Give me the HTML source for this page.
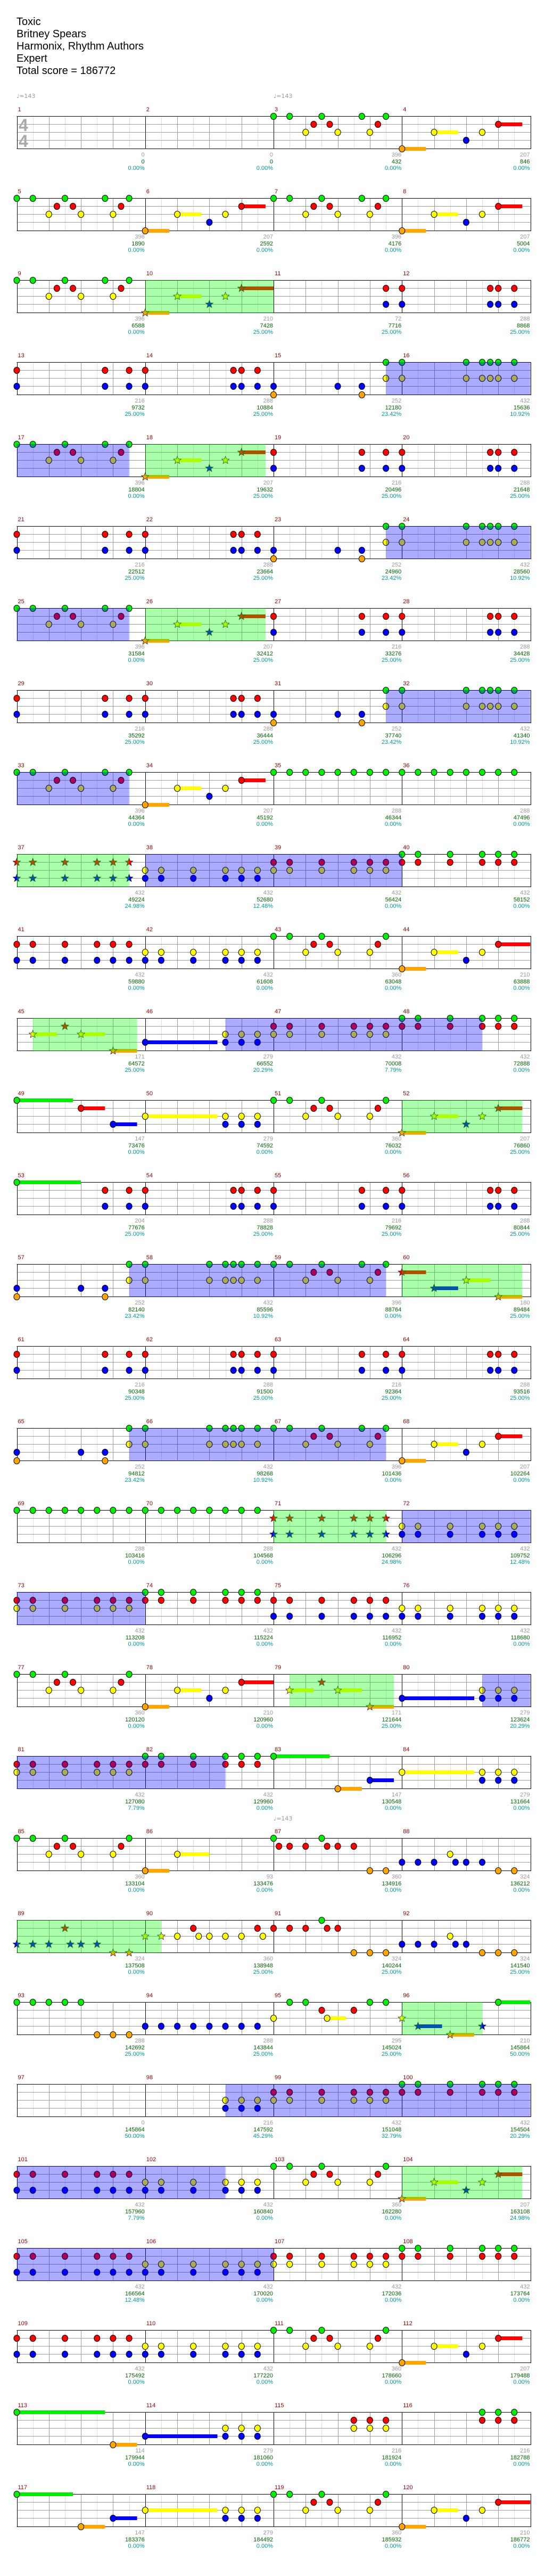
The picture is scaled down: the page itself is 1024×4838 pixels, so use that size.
<!DOCTYPE html>
<html><head><meta charset="utf-8">
<style>
html,body{margin:0;padding:0;background:#fff;}
body{width:1024px;height:4838px;position:relative;overflow:hidden;font-family:"Liberation Sans",sans-serif;}
#s{position:absolute;left:0;top:0;}
.title{position:absolute;left:31px;top:30px;font-size:20px;line-height:23px;color:#000;}
.ts{position:absolute;left:35px;font:bold 32px/32px "Liberation Sans",sans-serif;color:#aaa;}
.tempo{position:absolute;font-size:11px;line-height:12px;color:#999;font-family:"DejaVu Sans","Liberation Sans",sans-serif;}
.row{position:absolute;left:0;width:1024px;height:0;}
.m{position:absolute;top:0;width:241.25px;height:0;}
.m:nth-child(1){left:31.5px}.m:nth-child(2){left:272.75px}.m:nth-child(3){left:514px}.m:nth-child(4){left:755.25px}
.m b{position:absolute;left:2px;top:-18px;font-weight:normal;font-size:11px;line-height:13px;color:#8b0000;}
.m i{position:absolute;right:1px;top:67px;font-style:normal;text-align:right;font-size:11px;line-height:12.7px;white-space:nowrap;}
.m i a,.m i u,.m i s{display:block;text-decoration:none;}
.m i a{color:#999}.m i u{color:#006400}.m i s{color:#009999}
</style></head><body>
<svg id="s" width="1024" height="4838" xmlns="http://www.w3.org/2000/svg"></svg>
<div class="title">Toxic<br>Britney Spears<br>Harmonix, Rhythm Authors<br>Expert<br>Total score = 186772</div>
<div class="tempo" style="left:31px;top:175px">♩=143</div>
<div class="tempo" style="left:514px;top:175px">♩=143</div>
<div class="tempo" style="left:514px;top:3410px">♩=143</div>
<div class="ts" style="top:219px">4</div>
<div class="ts" style="top:249px">4</div>

<div class="row" style="top:218px"><div class="m"><b>1</b><i><a>0</a><u>0</u><s>0.00%</s></i></div><div class="m"><b>2</b><i><a>0</a><u>0</u><s>0.00%</s></i></div><div class="m"><b>3</b><i><a>396</a><u>432</u><s>0.00%</s></i></div><div class="m"><b>4</b><i><a>207</a><u>846</u><s>0.00%</s></i></div></div>
<div class="row" style="top:372px"><div class="m"><b>5</b><i><a>396</a><u>1890</u><s>0.00%</s></i></div><div class="m"><b>6</b><i><a>207</a><u>2592</u><s>0.00%</s></i></div><div class="m"><b>7</b><i><a>396</a><u>4176</u><s>0.00%</s></i></div><div class="m"><b>8</b><i><a>207</a><u>5004</u><s>0.00%</s></i></div></div>
<div class="row" style="top:526px"><div class="m"><b>9</b><i><a>396</a><u>6588</u><s>0.00%</s></i></div><div class="m"><b>10</b><i><a>210</a><u>7428</u><s>25.00%</s></i></div><div class="m"><b>11</b><i><a>72</a><u>7716</u><s>25.00%</s></i></div><div class="m"><b>12</b><i><a>288</a><u>8868</u><s>25.00%</s></i></div></div>
<div class="row" style="top:680px"><div class="m"><b>13</b><i><a>216</a><u>9732</u><s>25.00%</s></i></div><div class="m"><b>14</b><i><a>288</a><u>10884</u><s>25.00%</s></i></div><div class="m"><b>15</b><i><a>252</a><u>12180</u><s>23.42%</s></i></div><div class="m"><b>16</b><i><a>432</a><u>15636</u><s>10.92%</s></i></div></div>
<div class="row" style="top:834px"><div class="m"><b>17</b><i><a>396</a><u>18804</u><s>0.00%</s></i></div><div class="m"><b>18</b><i><a>207</a><u>19632</u><s>25.00%</s></i></div><div class="m"><b>19</b><i><a>216</a><u>20496</u><s>25.00%</s></i></div><div class="m"><b>20</b><i><a>288</a><u>21648</u><s>25.00%</s></i></div></div>
<div class="row" style="top:988px"><div class="m"><b>21</b><i><a>216</a><u>22512</u><s>25.00%</s></i></div><div class="m"><b>22</b><i><a>288</a><u>23664</u><s>25.00%</s></i></div><div class="m"><b>23</b><i><a>252</a><u>24960</u><s>23.42%</s></i></div><div class="m"><b>24</b><i><a>432</a><u>28560</u><s>10.92%</s></i></div></div>
<div class="row" style="top:1142px"><div class="m"><b>25</b><i><a>396</a><u>31584</u><s>0.00%</s></i></div><div class="m"><b>26</b><i><a>207</a><u>32412</u><s>25.00%</s></i></div><div class="m"><b>27</b><i><a>216</a><u>33276</u><s>25.00%</s></i></div><div class="m"><b>28</b><i><a>288</a><u>34428</u><s>25.00%</s></i></div></div>
<div class="row" style="top:1296px"><div class="m"><b>29</b><i><a>216</a><u>35292</u><s>25.00%</s></i></div><div class="m"><b>30</b><i><a>288</a><u>36444</u><s>25.00%</s></i></div><div class="m"><b>31</b><i><a>252</a><u>37740</u><s>23.42%</s></i></div><div class="m"><b>32</b><i><a>432</a><u>41340</u><s>10.92%</s></i></div></div>
<div class="row" style="top:1450px"><div class="m"><b>33</b><i><a>396</a><u>44364</u><s>0.00%</s></i></div><div class="m"><b>34</b><i><a>207</a><u>45192</u><s>0.00%</s></i></div><div class="m"><b>35</b><i><a>288</a><u>46344</u><s>0.00%</s></i></div><div class="m"><b>36</b><i><a>288</a><u>47496</u><s>0.00%</s></i></div></div>
<div class="row" style="top:1604px"><div class="m"><b>37</b><i><a>432</a><u>49224</u><s>24.98%</s></i></div><div class="m"><b>38</b><i><a>432</a><u>52680</u><s>12.48%</s></i></div><div class="m"><b>39</b><i><a>432</a><u>56424</u><s>0.00%</s></i></div><div class="m"><b>40</b><i><a>432</a><u>58152</u><s>0.00%</s></i></div></div>
<div class="row" style="top:1758px"><div class="m"><b>41</b><i><a>432</a><u>59880</u><s>0.00%</s></i></div><div class="m"><b>42</b><i><a>432</a><u>61608</u><s>0.00%</s></i></div><div class="m"><b>43</b><i><a>360</a><u>63048</u><s>0.00%</s></i></div><div class="m"><b>44</b><i><a>210</a><u>63888</u><s>0.00%</s></i></div></div>
<div class="row" style="top:1912px"><div class="m"><b>45</b><i><a>171</a><u>64572</u><s>25.00%</s></i></div><div class="m"><b>46</b><i><a>279</a><u>66552</u><s>20.29%</s></i></div><div class="m"><b>47</b><i><a>432</a><u>70008</u><s>7.79%</s></i></div><div class="m"><b>48</b><i><a>432</a><u>72888</u><s>0.00%</s></i></div></div>
<div class="row" style="top:2066px"><div class="m"><b>49</b><i><a>147</a><u>73476</u><s>0.00%</s></i></div><div class="m"><b>50</b><i><a>279</a><u>74592</u><s>0.00%</s></i></div><div class="m"><b>51</b><i><a>360</a><u>76032</u><s>0.00%</s></i></div><div class="m"><b>52</b><i><a>207</a><u>76860</u><s>25.00%</s></i></div></div>
<div class="row" style="top:2220px"><div class="m"><b>53</b><i><a>204</a><u>77676</u><s>25.00%</s></i></div><div class="m"><b>54</b><i><a>288</a><u>78828</u><s>25.00%</s></i></div><div class="m"><b>55</b><i><a>216</a><u>79692</u><s>25.00%</s></i></div><div class="m"><b>56</b><i><a>288</a><u>80844</u><s>25.00%</s></i></div></div>
<div class="row" style="top:2374px"><div class="m"><b>57</b><i><a>252</a><u>82140</u><s>23.42%</s></i></div><div class="m"><b>58</b><i><a>432</a><u>85596</u><s>10.92%</s></i></div><div class="m"><b>59</b><i><a>396</a><u>88764</u><s>0.00%</s></i></div><div class="m"><b>60</b><i><a>180</a><u>89484</u><s>25.00%</s></i></div></div>
<div class="row" style="top:2528px"><div class="m"><b>61</b><i><a>216</a><u>90348</u><s>25.00%</s></i></div><div class="m"><b>62</b><i><a>288</a><u>91500</u><s>25.00%</s></i></div><div class="m"><b>63</b><i><a>216</a><u>92364</u><s>25.00%</s></i></div><div class="m"><b>64</b><i><a>288</a><u>93516</u><s>25.00%</s></i></div></div>
<div class="row" style="top:2682px"><div class="m"><b>65</b><i><a>252</a><u>94812</u><s>23.42%</s></i></div><div class="m"><b>66</b><i><a>432</a><u>98268</u><s>10.92%</s></i></div><div class="m"><b>67</b><i><a>396</a><u>101436</u><s>0.00%</s></i></div><div class="m"><b>68</b><i><a>207</a><u>102264</u><s>0.00%</s></i></div></div>
<div class="row" style="top:2836px"><div class="m"><b>69</b><i><a>288</a><u>103416</u><s>0.00%</s></i></div><div class="m"><b>70</b><i><a>288</a><u>104568</u><s>0.00%</s></i></div><div class="m"><b>71</b><i><a>432</a><u>106296</u><s>24.98%</s></i></div><div class="m"><b>72</b><i><a>432</a><u>109752</u><s>12.48%</s></i></div></div>
<div class="row" style="top:2990px"><div class="m"><b>73</b><i><a>432</a><u>113208</u><s>0.00%</s></i></div><div class="m"><b>74</b><i><a>432</a><u>115224</u><s>0.00%</s></i></div><div class="m"><b>75</b><i><a>432</a><u>116952</u><s>0.00%</s></i></div><div class="m"><b>76</b><i><a>432</a><u>118680</u><s>0.00%</s></i></div></div>
<div class="row" style="top:3144px"><div class="m"><b>77</b><i><a>360</a><u>120120</u><s>0.00%</s></i></div><div class="m"><b>78</b><i><a>210</a><u>120960</u><s>0.00%</s></i></div><div class="m"><b>79</b><i><a>171</a><u>121644</u><s>25.00%</s></i></div><div class="m"><b>80</b><i><a>279</a><u>123624</u><s>20.29%</s></i></div></div>
<div class="row" style="top:3298px"><div class="m"><b>81</b><i><a>432</a><u>127080</u><s>7.79%</s></i></div><div class="m"><b>82</b><i><a>432</a><u>129960</u><s>0.00%</s></i></div><div class="m"><b>83</b><i><a>147</a><u>130548</u><s>0.00%</s></i></div><div class="m"><b>84</b><i><a>279</a><u>131664</u><s>0.00%</s></i></div></div>
<div class="row" style="top:3452px"><div class="m"><b>85</b><i><a>360</a><u>133104</u><s>0.00%</s></i></div><div class="m"><b>86</b><i><a>93</a><u>133476</u><s>0.00%</s></i></div><div class="m"><b>87</b><i><a>360</a><u>134916</u><s>0.00%</s></i></div><div class="m"><b>88</b><i><a>324</a><u>136212</u><s>0.00%</s></i></div></div>
<div class="row" style="top:3606px"><div class="m"><b>89</b><i><a>324</a><u>137508</u><s>0.00%</s></i></div><div class="m"><b>90</b><i><a>360</a><u>138948</u><s>25.00%</s></i></div><div class="m"><b>91</b><i><a>324</a><u>140244</u><s>25.00%</s></i></div><div class="m"><b>92</b><i><a>324</a><u>141540</u><s>25.00%</s></i></div></div>
<div class="row" style="top:3760px"><div class="m"><b>93</b><i><a>288</a><u>142692</u><s>25.00%</s></i></div><div class="m"><b>94</b><i><a>288</a><u>143844</u><s>25.00%</s></i></div><div class="m"><b>95</b><i><a>295</a><u>145024</u><s>25.00%</s></i></div><div class="m"><b>96</b><i><a>210</a><u>145864</u><s>50.00%</s></i></div></div>
<div class="row" style="top:3914px"><div class="m"><b>97</b><i><a>0</a><u>145864</u><s>50.00%</s></i></div><div class="m"><b>98</b><i><a>216</a><u>147592</u><s>45.29%</s></i></div><div class="m"><b>99</b><i><a>432</a><u>151048</u><s>32.79%</s></i></div><div class="m"><b>100</b><i><a>432</a><u>154504</u><s>20.29%</s></i></div></div>
<div class="row" style="top:4068px"><div class="m"><b>101</b><i><a>432</a><u>157960</u><s>7.79%</s></i></div><div class="m"><b>102</b><i><a>432</a><u>160840</u><s>0.00%</s></i></div><div class="m"><b>103</b><i><a>360</a><u>162280</u><s>0.00%</s></i></div><div class="m"><b>104</b><i><a>207</a><u>163108</u><s>24.98%</s></i></div></div>
<div class="row" style="top:4222px"><div class="m"><b>105</b><i><a>432</a><u>166564</u><s>12.48%</s></i></div><div class="m"><b>106</b><i><a>432</a><u>170020</u><s>0.00%</s></i></div><div class="m"><b>107</b><i><a>432</a><u>172036</u><s>0.00%</s></i></div><div class="m"><b>108</b><i><a>432</a><u>173764</u><s>0.00%</s></i></div></div>
<div class="row" style="top:4376px"><div class="m"><b>109</b><i><a>432</a><u>175492</u><s>0.00%</s></i></div><div class="m"><b>110</b><i><a>432</a><u>177220</u><s>0.00%</s></i></div><div class="m"><b>111</b><i><a>360</a><u>178660</u><s>0.00%</s></i></div><div class="m"><b>112</b><i><a>207</a><u>179488</u><s>0.00%</s></i></div></div>
<div class="row" style="top:4530px"><div class="m"><b>113</b><i><a>114</a><u>179944</u><s>0.00%</s></i></div><div class="m"><b>114</b><i><a>279</a><u>181060</u><s>0.00%</s></i></div><div class="m"><b>115</b><i><a>216</a><u>181924</u><s>0.00%</s></i></div><div class="m"><b>116</b><i><a>216</a><u>182788</u><s>0.00%</s></i></div></div>
<div class="row" style="top:4684px"><div class="m"><b>117</b><i><a>147</a><u>183376</u><s>0.00%</s></i></div><div class="m"><b>118</b><i><a>279</a><u>184492</u><s>0.00%</s></i></div><div class="m"><b>119</b><i><a>360</a><u>185932</u><s>0.00%</s></i></div><div class="m"><b>120</b><i><a>210</a><u>186772</u><s>0.00%</s></i></div></div>

<script>
(function(){
var L=31.5,MW=241.25;
var COL={g:'#00ee00',r:'#ff0000',y:'#ffff00',b:'#0000ff',o:'#ffa500'};
var LY={g:0,r:15,y:30,b:45,o:61};
function Q(a,b){return [0,2,6,10,12,14].map(function(p){return a+p+' '+b+p;}).join(' ');}
var A='g0 g2 g6 g11 g14 r5 r7 r13 y4 y8 y12', A2='g0 g2 g6 g14 r5 r7 r13 y4 y8 y12';
function B(e){return 'o0-3 y4-7 b8 y10 r12-'+e;}
var P1='r0 b0 r11 b11 r14 b14', P2='r0 b0 r11 b11 r12 b12 r14 b14';
var P3='b0 o0 b8 b11 o11 g14 y14', P4='g0 y0 g8 y8 g10 y10 g11 y11 g12 y12 g14 y14';
var E='g0 g2 g4 g6 g8 g10 g12 g14', Eb='b0 b2 b4 b6 b8 b10 b12 b14';
var BT='b0-9 y10 b10 y12 b12 y14 b14', YT='y0-9 y10 b10 y12 b12 y14 b14';
var ST='r6 y2-5 y8-11 o12-15';
var M=[
'', '', A, B(15),
A, B(15), A, B(15),
A, B(16), 'r14 b14', P2,
P1, P2, P3, P4,
A, B(15), P1, P2,
P1, P2, P3, P4,
A, B(15), P1, P2,
P1, P2, P3, P4,
A, B(15), E, E,
Q('r','b'), Q('y','b'), Q('r','y'), Q('g','r'),
Q('r','b'), Q('y','b'), A2, B(16),
ST, BT, Q('r','y'), Q('g','r'),
'g0-7 r8-11 b12-15', YT, A2, B(15),
'g0-8 r11 b11 r14 b14', P2, P1, P2,
P3, P4, A, 'r0-3 b4-7 y8-11 o12-15',
P1, P2, P1, P2,
P3, P4, A, B(15),
E, E, Q('r','b'), Q('y','b'),
Q('r','y'), Q('g','r'), Q('r','b'), Q('y','b'),
A2, B(16), ST, BT,
Q('r','y'), Q('g','r'), 'g0-7 o8-11 b12-15', YT,
A2, 'o0-3 y4-8', 'g0 g6 r0.67 r2 r4 r6.67 r8 r10 o12 o14', 'b0 b2 b4 y6 b6.67 b8 b10 o12 o14',
'r6 b0 b2 b4 b6.67 b8 b10 o12 o14', 'y0 y2 y4 r6 y6.67 y8 y10 y12 r14 y14.67', 'r0 r2 r4 g6 r6.67 r8 o10 o12 o14', 'b0 b2 b4 y6 b6.67 b8 o10 o12 o14',
'g0 g2 g4 g6 g8 o10 o12 o14', Eb, 'y0 g2 g4 r6 y6.67-9 r10 g12 g14', 'y0 b2-5 o6-9 b10 g12-16',
'', 'y10 b10 y12 b12 y14 b14', Q('r','y'), Q('g','r'),
Q('r','b'), Q('y','b'), A2, B(15),
Q('r','b'), Q('y','b'), Q('r','y'), Q('g','r'),
Q('r','b'), Q('y','b'), A2, B(15),
'g0-11 o12-15', BT, 'r10 y10 r12 y12 r14 y14', 'g10 r10 g12 r12 g14 r14',
'g0-7 o8-11 b12-15', YT, A2, B(16)
];
function U(m,p){return (m-1)+p/16;}
var GR=[[10,0,11,0],[18,0,18,15],[26,0,26,15],[37,0,37,14],[45,2,45,15],[52,0,52,15],[60,0,60,15],[71,0,71,14],[79,2,79,15],[89,0,90,2],[96,0,96,10],[104,0,104,15]].map(function(a){return [U(a[0],a[1]),U(a[2],a[3])];});
var SO=[[15,14,17,14],[23,14,25,14],[31,14,33,14],[38,0,40,0],[46,10,48,10],[57,14,59,14],[65,14,67,14],[72,0,74,0],[80,10,82,10],[98,10,102,10],[105,0,107,0]].map(function(a){return [U(a[0],a[1]),U(a[2],a[3])];});
function XU(u){var r=Math.floor(u/4+1e-9);return L+(u-4*r)*MW;}
function star(cx,cy,R,r){var s='';for(var i=0;i<10;i++){var a=-Math.PI/2+i*Math.PI/5;var rr=i%2?r:R;s+=(i?'L':'M')+(cx+rr*Math.cos(a)).toFixed(1)+' '+(cy+rr*Math.sin(a)).toFixed(1);}return s+'Z';}
var h='';
for(var row=0;row<30;row++){
  var T=218+154*row;
  for(var c=0;c<4;c++){for(var k=1;k<8;k++){var x=Math.round(L+c*MW+k*MW/8)+.5;h+='<line x1="'+x+'" y1="'+T+'" x2="'+x+'" y2="'+(T+61)+'" stroke="'+(k%2?'#dedede':'#9a9a9a')+'"/>';}}
  [15,30,45].forEach(function(dy){h+='<line x1="31.5" x2="997" y1="'+(T+dy+.5)+'" y2="'+(T+dy+.5)+'" stroke="#9a9a9a"/>';});
  for(var c2=0;c2<=4;c2++){var x2=Math.round(L+c2*MW)+.5;h+='<line x1="'+x2+'" y1="'+T+'" x2="'+x2+'" y2="'+(T+62)+'" stroke="#000"/>';}
  h+='<line x1="31.5" x2="997.5" y1="'+(T+.5)+'" y2="'+(T+.5)+'" stroke="#000"/>';
  h+='<line x1="31.5" x2="997.5" y1="'+(T+61.5)+'" y2="'+(T+61.5)+'" stroke="#000"/>';
}
var sus='',notes='';
M.forEach(function(str,mi){
  if(!str)return;
  var row=Math.floor(mi/4),col=mi%4,T=218+154*row;
  str.split(' ').forEach(function(tk){
    var m=tk.match(/^([gryob])([\d.]+)(?:-([\d.]+))?$/);if(!m)return;
    var c=m[1],p=parseFloat(m[2]);
    var cx=L+col*MW+p*MW/16, cy=T+LY[c]+.5;
    var u=mi+p/16;
    var isStar=GR.some(function(g){return u>=g[0]-1e-6&&u<=g[1]+1e-6;});
    if(m[3]){var e=parseFloat(m[3]);var ex=L+col*MW+e*MW/16;sus+='<rect x="'+cx.toFixed(1)+'" y="'+(cy-3.5)+'" width="'+(ex-cx).toFixed(1)+'" height="7" fill="'+COL[c]+'"/>';}
    if(isStar)notes+='<path d="'+star(cx,cy,7.5,3.2)+'" fill="'+COL[c]+'" stroke="#222" stroke-width="0.8"/>';
    else notes+='<ellipse cx="'+cx.toFixed(1)+'" cy="'+cy+'" rx="5.5" ry="6" fill="'+COL[c]+'" stroke="#000" stroke-width="1"/>';
  });
});
var ov='';
function region(list,fill){
  list.forEach(function(g){
    for(var row=0;row<30;row++){
      var a=Math.max(g[0],row*4),b=Math.min(g[1],row*4+4);
      if(b<=a)continue;
      var T=218+154*row;
      var x1=L+(a-row*4)*MW,x2=L+(b-row*4)*MW;
      ov+='<rect x="'+x1.toFixed(1)+'" y="'+T+'" width="'+(x2-x1).toFixed(1)+'" height="62" fill="'+fill+'"/>';
    }
  });
}
region(GR,'rgba(0,255,0,0.33)');
region(SO,'rgba(0,0,255,0.33)');
document.getElementById('s').innerHTML=h+sus+notes+ov;
})();
</script>
</body></html>
